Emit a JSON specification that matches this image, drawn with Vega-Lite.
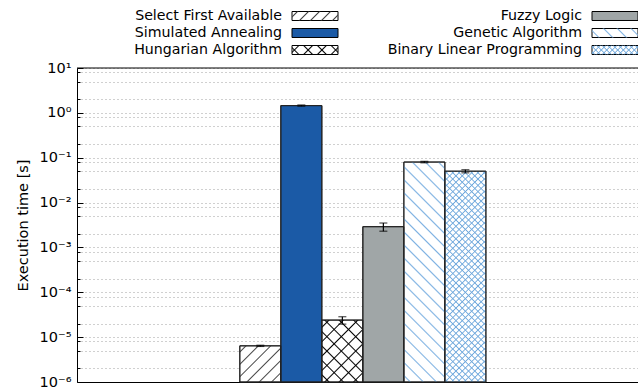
{
  "$schema": "https://vega.github.io/schema/vega-lite/v6.json",
  "width": 561,
  "height": 314,
  "autosize": {"type": "none"},
  "padding": {"left": 77, "top": 68, "right": 0, "bottom": 9},
  "background": "#ffffff",
  "config": {"font": "DejaVu Sans", "view": {"stroke": null}},
  "data": {"values": [
    {"algo": "Select First Available", "time": 6.4e-6, "lo": 6.2e-6, "hi": 6.6e-6},
    {"algo": "Simulated Annealing", "time": 1.45, "lo": 1.41, "hi": 1.5},
    {"algo": "Hungarian Algorithm", "time": 2.4e-5, "lo": 1.95e-5, "hi": 2.85e-5},
    {"algo": "Fuzzy Logic", "time": 0.0029, "lo": 0.0023, "hi": 0.0035},
    {"algo": "Genetic Algorithm", "time": 0.08, "lo": 0.077, "hi": 0.083},
    {"algo": "Binary Linear Programming", "time": 0.05, "lo": 0.046, "hi": 0.054}
  ]},
  "resolve": {"scale": {"x": "independent", "y": "independent"}},
  "layer": [
    {
      "layer": [
        {
          "encoding": {
            "x": {"datum": "group", "type": "nominal",
              "scale": {"domain": ["group"], "paddingInner": 0, "paddingOuter": 0.64, "align": 0.517},
              "axis": {"labels": false, "ticks": false, "title": null, "domainColor": "#000000", "domainWidth": 1, "grid": false}},
            "xOffset": {"field": "algo", "type": "nominal", "sort": null,
              "scale": {"domain": ["Select First Available", "Simulated Annealing", "Hungarian Algorithm", "Fuzzy Logic", "Genetic Algorithm", "Binary Linear Programming"], "paddingInner": 0, "paddingOuter": 0}},
            "y": {"field": "time", "type": "quantitative", "title": "Execution time [s]",
              "scale": {"type": "log", "domain": [1e-6, 10], "nice": false},
              "axis": {
                "values": [1e-6,2e-6,5e-6,8e-6,1e-5,2e-5,5e-5,8e-5,1e-4,2e-4,5e-4,8e-4,0.001,0.002,0.005,0.008,0.01,0.02,0.05,0.08,0.1,0.2,0.5,0.8,1,2,5,8,10],
                "labelExpr": "abs(log(datum.value)/LN10 - round(log(datum.value)/LN10)) > 0.01 ? '' : ['10⁻⁶','10⁻⁵','10⁻⁴','10⁻³','10⁻²','10⁻¹','10⁰','10¹'][round(log(datum.value)/LN10) + 6]",
                "labelOverlap": false,
                "labelFontSize": 14.5, "labelColor": "#000000", "labelPadding": 12,
                "grid": true, "gridColor": "#a0a0a0", "gridDash": [1, 3], "gridWidth": 1,
                "domain": true, "domainColor": "#000000", "domainWidth": 1,
                "ticks": true, "tickColor": "#000000", "tickWidth": 1,
                "tickSize": {"condition": {"test": "abs(log(datum.value)/LN10 - round(log(datum.value)/LN10)) < 0.01", "value": -6}, "value": -3},
                "titleFontSize": 14.5, "titleFontWeight": "normal", "titleColor": "#000000", "titlePadding": 9
              }},
            "y2": {"datum": 1e-6}
          },
          "layer": [
            {"mark": {"type": "bar", "stroke": "#222222", "strokeWidth": 1},
             "encoding": {"fill": {"field": "algo", "type": "nominal", "legend": null,
               "scale": {"domain": ["Select First Available", "Simulated Annealing", "Hungarian Algorithm", "Fuzzy Logic", "Genetic Algorithm", "Binary Linear Programming"], "range": ["#ffffff", "#1b5aa6", "#ffffff", "#a0a6a7", "#ffffff", "#ffffff"]}}}},
            {"transform": [{"filter": "datum.algo === 'Select First Available'"}],
             "mark": {"type": "bar", "fill": {"gradient": "linear", "x1": 0, "y1": 0, "x2": 1.058, "y2": 0.934, "stops": [
               {"offset":0.062,"color":"#44444400"},{"offset":0.08,"color":"#444444"},{"offset":0.098,"color":"#44444400"},
               {"offset":0.222,"color":"#44444400"},{"offset":0.24,"color":"#444444"},{"offset":0.258,"color":"#44444400"},
               {"offset":0.382,"color":"#44444400"},{"offset":0.4,"color":"#444444"},{"offset":0.418,"color":"#44444400"},
               {"offset":0.542,"color":"#44444400"},{"offset":0.56,"color":"#444444"},{"offset":0.578,"color":"#44444400"},
               {"offset":0.702,"color":"#44444400"},{"offset":0.72,"color":"#444444"},{"offset":0.738,"color":"#44444400"},
               {"offset":0.862,"color":"#44444400"},{"offset":0.88,"color":"#444444"},{"offset":0.898,"color":"#44444400"}]}}},
            {"transform": [{"filter": "datum.algo === 'Hungarian Algorithm'"}],
             "mark": {"type": "bar", "fill": {"gradient": "linear", "x1": 0, "y1": 0, "x2": 0.765, "y2": 1.155, "stops": [
               {"offset":0.056,"color":"#00000000"},{"offset":0.07,"color":"#000000"},{"offset":0.084,"color":"#00000000"},
               {"offset":0.196,"color":"#00000000"},{"offset":0.21,"color":"#000000"},{"offset":0.224,"color":"#00000000"},
               {"offset":0.336,"color":"#00000000"},{"offset":0.35,"color":"#000000"},{"offset":0.364,"color":"#00000000"},
               {"offset":0.476,"color":"#00000000"},{"offset":0.49,"color":"#000000"},{"offset":0.504,"color":"#00000000"},
               {"offset":0.616,"color":"#00000000"},{"offset":0.63,"color":"#000000"},{"offset":0.644,"color":"#00000000"},
               {"offset":0.756,"color":"#00000000"},{"offset":0.77,"color":"#000000"},{"offset":0.784,"color":"#00000000"},
               {"offset":0.896,"color":"#00000000"},{"offset":0.91,"color":"#000000"},{"offset":0.924,"color":"#00000000"}]}}},
            {"transform": [{"filter": "datum.algo === 'Hungarian Algorithm'"}],
             "mark": {"type": "bar", "fill": {"gradient": "linear", "x1": 0, "y1": 1, "x2": 0.765, "y2": -0.155, "stops": [
               {"offset":0.056,"color":"#00000000"},{"offset":0.07,"color":"#000000"},{"offset":0.084,"color":"#00000000"},
               {"offset":0.196,"color":"#00000000"},{"offset":0.21,"color":"#000000"},{"offset":0.224,"color":"#00000000"},
               {"offset":0.336,"color":"#00000000"},{"offset":0.35,"color":"#000000"},{"offset":0.364,"color":"#00000000"},
               {"offset":0.476,"color":"#00000000"},{"offset":0.49,"color":"#000000"},{"offset":0.504,"color":"#00000000"},
               {"offset":0.616,"color":"#00000000"},{"offset":0.63,"color":"#000000"},{"offset":0.644,"color":"#00000000"},
               {"offset":0.756,"color":"#00000000"},{"offset":0.77,"color":"#000000"},{"offset":0.784,"color":"#00000000"},
               {"offset":0.896,"color":"#00000000"},{"offset":0.91,"color":"#000000"},{"offset":0.924,"color":"#00000000"}]}}},
            {"transform": [{"filter": "datum.algo === 'Genetic Algorithm'"}],
             "mark": {"type": "bar", "fill": {"gradient": "linear", "x1": 0, "y1": 1, "x2": 0.214, "y2": -0.147, "stops": [
               {"offset":0.019,"color":"#7fb2e200"},{"offset":0.025,"color":"#7fb2e2"},{"offset":0.031,"color":"#7fb2e200"},{"offset":0.069,"color":"#7fb2e200"},{"offset":0.075,"color":"#7fb2e2"},{"offset":0.081,"color":"#7fb2e200"},
               {"offset":0.119,"color":"#7fb2e200"},{"offset":0.125,"color":"#7fb2e2"},{"offset":0.131,"color":"#7fb2e200"},{"offset":0.169,"color":"#7fb2e200"},{"offset":0.175,"color":"#7fb2e2"},{"offset":0.181,"color":"#7fb2e200"},
               {"offset":0.219,"color":"#7fb2e200"},{"offset":0.225,"color":"#7fb2e2"},{"offset":0.231,"color":"#7fb2e200"},{"offset":0.269,"color":"#7fb2e200"},{"offset":0.275,"color":"#7fb2e2"},{"offset":0.281,"color":"#7fb2e200"},
               {"offset":0.319,"color":"#7fb2e200"},{"offset":0.325,"color":"#7fb2e2"},{"offset":0.331,"color":"#7fb2e200"},{"offset":0.369,"color":"#7fb2e200"},{"offset":0.375,"color":"#7fb2e2"},{"offset":0.381,"color":"#7fb2e200"},
               {"offset":0.419,"color":"#7fb2e200"},{"offset":0.425,"color":"#7fb2e2"},{"offset":0.431,"color":"#7fb2e200"},{"offset":0.469,"color":"#7fb2e200"},{"offset":0.475,"color":"#7fb2e2"},{"offset":0.481,"color":"#7fb2e200"},
               {"offset":0.519,"color":"#7fb2e200"},{"offset":0.525,"color":"#7fb2e2"},{"offset":0.531,"color":"#7fb2e200"},{"offset":0.569,"color":"#7fb2e200"},{"offset":0.575,"color":"#7fb2e2"},{"offset":0.581,"color":"#7fb2e200"},
               {"offset":0.619,"color":"#7fb2e200"},{"offset":0.625,"color":"#7fb2e2"},{"offset":0.631,"color":"#7fb2e200"},{"offset":0.669,"color":"#7fb2e200"},{"offset":0.675,"color":"#7fb2e2"},{"offset":0.681,"color":"#7fb2e200"},
               {"offset":0.719,"color":"#7fb2e200"},{"offset":0.725,"color":"#7fb2e2"},{"offset":0.731,"color":"#7fb2e200"},{"offset":0.769,"color":"#7fb2e200"},{"offset":0.775,"color":"#7fb2e2"},{"offset":0.781,"color":"#7fb2e200"},
               {"offset":0.819,"color":"#7fb2e200"},{"offset":0.825,"color":"#7fb2e2"},{"offset":0.831,"color":"#7fb2e200"},{"offset":0.869,"color":"#7fb2e200"},{"offset":0.875,"color":"#7fb2e2"},{"offset":0.881,"color":"#7fb2e200"},
               {"offset":0.919,"color":"#7fb2e200"},{"offset":0.925,"color":"#7fb2e2"},{"offset":0.931,"color":"#7fb2e200"},{"offset":0.969,"color":"#7fb2e200"},{"offset":0.975,"color":"#7fb2e2"},{"offset":0.981,"color":"#7fb2e200"}]}}},
            {"transform": [{"filter": "datum.algo === 'Binary Linear Programming'"}],
             "mark": {"type": "bar", "fill": {"gradient": "linear", "x1": 0, "y1": 0, "x2": 0.224, "y2": 1.151, "stops": [
               {"offset":0.0075,"color":"#6fa8dc00"},{"offset":0.0125,"color":"#6fa8dc"},{"offset":0.0175,"color":"#6fa8dc00"},{"offset":0.0325,"color":"#6fa8dc00"},{"offset":0.0375,"color":"#6fa8dc"},{"offset":0.0425,"color":"#6fa8dc00"},{"offset":0.0575,"color":"#6fa8dc00"},{"offset":0.0625,"color":"#6fa8dc"},{"offset":0.0675,"color":"#6fa8dc00"},{"offset":0.0825,"color":"#6fa8dc00"},{"offset":0.0875,"color":"#6fa8dc"},{"offset":0.0925,"color":"#6fa8dc00"},
               {"offset":0.1075,"color":"#6fa8dc00"},{"offset":0.1125,"color":"#6fa8dc"},{"offset":0.1175,"color":"#6fa8dc00"},{"offset":0.1325,"color":"#6fa8dc00"},{"offset":0.1375,"color":"#6fa8dc"},{"offset":0.1425,"color":"#6fa8dc00"},{"offset":0.1575,"color":"#6fa8dc00"},{"offset":0.1625,"color":"#6fa8dc"},{"offset":0.1675,"color":"#6fa8dc00"},{"offset":0.1825,"color":"#6fa8dc00"},{"offset":0.1875,"color":"#6fa8dc"},{"offset":0.1925,"color":"#6fa8dc00"},
               {"offset":0.2075,"color":"#6fa8dc00"},{"offset":0.2125,"color":"#6fa8dc"},{"offset":0.2175,"color":"#6fa8dc00"},{"offset":0.2325,"color":"#6fa8dc00"},{"offset":0.2375,"color":"#6fa8dc"},{"offset":0.2425,"color":"#6fa8dc00"},{"offset":0.2575,"color":"#6fa8dc00"},{"offset":0.2625,"color":"#6fa8dc"},{"offset":0.2675,"color":"#6fa8dc00"},{"offset":0.2825,"color":"#6fa8dc00"},{"offset":0.2875,"color":"#6fa8dc"},{"offset":0.2925,"color":"#6fa8dc00"},
               {"offset":0.3075,"color":"#6fa8dc00"},{"offset":0.3125,"color":"#6fa8dc"},{"offset":0.3175,"color":"#6fa8dc00"},{"offset":0.3325,"color":"#6fa8dc00"},{"offset":0.3375,"color":"#6fa8dc"},{"offset":0.3425,"color":"#6fa8dc00"},{"offset":0.3575,"color":"#6fa8dc00"},{"offset":0.3625,"color":"#6fa8dc"},{"offset":0.3675,"color":"#6fa8dc00"},{"offset":0.3825,"color":"#6fa8dc00"},{"offset":0.3875,"color":"#6fa8dc"},{"offset":0.3925,"color":"#6fa8dc00"},
               {"offset":0.4075,"color":"#6fa8dc00"},{"offset":0.4125,"color":"#6fa8dc"},{"offset":0.4175,"color":"#6fa8dc00"},{"offset":0.4325,"color":"#6fa8dc00"},{"offset":0.4375,"color":"#6fa8dc"},{"offset":0.4425,"color":"#6fa8dc00"},{"offset":0.4575,"color":"#6fa8dc00"},{"offset":0.4625,"color":"#6fa8dc"},{"offset":0.4675,"color":"#6fa8dc00"},{"offset":0.4825,"color":"#6fa8dc00"},{"offset":0.4875,"color":"#6fa8dc"},{"offset":0.4925,"color":"#6fa8dc00"},
               {"offset":0.5075,"color":"#6fa8dc00"},{"offset":0.5125,"color":"#6fa8dc"},{"offset":0.5175,"color":"#6fa8dc00"},{"offset":0.5325,"color":"#6fa8dc00"},{"offset":0.5375,"color":"#6fa8dc"},{"offset":0.5425,"color":"#6fa8dc00"},{"offset":0.5575,"color":"#6fa8dc00"},{"offset":0.5625,"color":"#6fa8dc"},{"offset":0.5675,"color":"#6fa8dc00"},{"offset":0.5825,"color":"#6fa8dc00"},{"offset":0.5875,"color":"#6fa8dc"},{"offset":0.5925,"color":"#6fa8dc00"},
               {"offset":0.6075,"color":"#6fa8dc00"},{"offset":0.6125,"color":"#6fa8dc"},{"offset":0.6175,"color":"#6fa8dc00"},{"offset":0.6325,"color":"#6fa8dc00"},{"offset":0.6375,"color":"#6fa8dc"},{"offset":0.6425,"color":"#6fa8dc00"},{"offset":0.6575,"color":"#6fa8dc00"},{"offset":0.6625,"color":"#6fa8dc"},{"offset":0.6675,"color":"#6fa8dc00"},{"offset":0.6825,"color":"#6fa8dc00"},{"offset":0.6875,"color":"#6fa8dc"},{"offset":0.6925,"color":"#6fa8dc00"},
               {"offset":0.7075,"color":"#6fa8dc00"},{"offset":0.7125,"color":"#6fa8dc"},{"offset":0.7175,"color":"#6fa8dc00"},{"offset":0.7325,"color":"#6fa8dc00"},{"offset":0.7375,"color":"#6fa8dc"},{"offset":0.7425,"color":"#6fa8dc00"},{"offset":0.7575,"color":"#6fa8dc00"},{"offset":0.7625,"color":"#6fa8dc"},{"offset":0.7675,"color":"#6fa8dc00"},{"offset":0.7825,"color":"#6fa8dc00"},{"offset":0.7875,"color":"#6fa8dc"},{"offset":0.7925,"color":"#6fa8dc00"},
               {"offset":0.8075,"color":"#6fa8dc00"},{"offset":0.8125,"color":"#6fa8dc"},{"offset":0.8175,"color":"#6fa8dc00"},{"offset":0.8325,"color":"#6fa8dc00"},{"offset":0.8375,"color":"#6fa8dc"},{"offset":0.8425,"color":"#6fa8dc00"},{"offset":0.8575,"color":"#6fa8dc00"},{"offset":0.8625,"color":"#6fa8dc"},{"offset":0.8675,"color":"#6fa8dc00"},{"offset":0.8825,"color":"#6fa8dc00"},{"offset":0.8875,"color":"#6fa8dc"},{"offset":0.8925,"color":"#6fa8dc00"},
               {"offset":0.9075,"color":"#6fa8dc00"},{"offset":0.9125,"color":"#6fa8dc"},{"offset":0.9175,"color":"#6fa8dc00"},{"offset":0.9325,"color":"#6fa8dc00"},{"offset":0.9375,"color":"#6fa8dc"},{"offset":0.9425,"color":"#6fa8dc00"},{"offset":0.9575,"color":"#6fa8dc00"},{"offset":0.9625,"color":"#6fa8dc"},{"offset":0.9675,"color":"#6fa8dc00"},{"offset":0.9825,"color":"#6fa8dc00"},{"offset":0.9875,"color":"#6fa8dc"},{"offset":0.9925,"color":"#6fa8dc00"}]}}},
            {"transform": [{"filter": "datum.algo === 'Binary Linear Programming'"}],
             "mark": {"type": "bar", "fill": {"gradient": "linear", "x1": 0, "y1": 1, "x2": 0.224, "y2": -0.151, "stops": [
               {"offset":0.0075,"color":"#6fa8dc00"},{"offset":0.0125,"color":"#6fa8dc"},{"offset":0.0175,"color":"#6fa8dc00"},{"offset":0.0325,"color":"#6fa8dc00"},{"offset":0.0375,"color":"#6fa8dc"},{"offset":0.0425,"color":"#6fa8dc00"},{"offset":0.0575,"color":"#6fa8dc00"},{"offset":0.0625,"color":"#6fa8dc"},{"offset":0.0675,"color":"#6fa8dc00"},{"offset":0.0825,"color":"#6fa8dc00"},{"offset":0.0875,"color":"#6fa8dc"},{"offset":0.0925,"color":"#6fa8dc00"},
               {"offset":0.1075,"color":"#6fa8dc00"},{"offset":0.1125,"color":"#6fa8dc"},{"offset":0.1175,"color":"#6fa8dc00"},{"offset":0.1325,"color":"#6fa8dc00"},{"offset":0.1375,"color":"#6fa8dc"},{"offset":0.1425,"color":"#6fa8dc00"},{"offset":0.1575,"color":"#6fa8dc00"},{"offset":0.1625,"color":"#6fa8dc"},{"offset":0.1675,"color":"#6fa8dc00"},{"offset":0.1825,"color":"#6fa8dc00"},{"offset":0.1875,"color":"#6fa8dc"},{"offset":0.1925,"color":"#6fa8dc00"},
               {"offset":0.2075,"color":"#6fa8dc00"},{"offset":0.2125,"color":"#6fa8dc"},{"offset":0.2175,"color":"#6fa8dc00"},{"offset":0.2325,"color":"#6fa8dc00"},{"offset":0.2375,"color":"#6fa8dc"},{"offset":0.2425,"color":"#6fa8dc00"},{"offset":0.2575,"color":"#6fa8dc00"},{"offset":0.2625,"color":"#6fa8dc"},{"offset":0.2675,"color":"#6fa8dc00"},{"offset":0.2825,"color":"#6fa8dc00"},{"offset":0.2875,"color":"#6fa8dc"},{"offset":0.2925,"color":"#6fa8dc00"},
               {"offset":0.3075,"color":"#6fa8dc00"},{"offset":0.3125,"color":"#6fa8dc"},{"offset":0.3175,"color":"#6fa8dc00"},{"offset":0.3325,"color":"#6fa8dc00"},{"offset":0.3375,"color":"#6fa8dc"},{"offset":0.3425,"color":"#6fa8dc00"},{"offset":0.3575,"color":"#6fa8dc00"},{"offset":0.3625,"color":"#6fa8dc"},{"offset":0.3675,"color":"#6fa8dc00"},{"offset":0.3825,"color":"#6fa8dc00"},{"offset":0.3875,"color":"#6fa8dc"},{"offset":0.3925,"color":"#6fa8dc00"},
               {"offset":0.4075,"color":"#6fa8dc00"},{"offset":0.4125,"color":"#6fa8dc"},{"offset":0.4175,"color":"#6fa8dc00"},{"offset":0.4325,"color":"#6fa8dc00"},{"offset":0.4375,"color":"#6fa8dc"},{"offset":0.4425,"color":"#6fa8dc00"},{"offset":0.4575,"color":"#6fa8dc00"},{"offset":0.4625,"color":"#6fa8dc"},{"offset":0.4675,"color":"#6fa8dc00"},{"offset":0.4825,"color":"#6fa8dc00"},{"offset":0.4875,"color":"#6fa8dc"},{"offset":0.4925,"color":"#6fa8dc00"},
               {"offset":0.5075,"color":"#6fa8dc00"},{"offset":0.5125,"color":"#6fa8dc"},{"offset":0.5175,"color":"#6fa8dc00"},{"offset":0.5325,"color":"#6fa8dc00"},{"offset":0.5375,"color":"#6fa8dc"},{"offset":0.5425,"color":"#6fa8dc00"},{"offset":0.5575,"color":"#6fa8dc00"},{"offset":0.5625,"color":"#6fa8dc"},{"offset":0.5675,"color":"#6fa8dc00"},{"offset":0.5825,"color":"#6fa8dc00"},{"offset":0.5875,"color":"#6fa8dc"},{"offset":0.5925,"color":"#6fa8dc00"},
               {"offset":0.6075,"color":"#6fa8dc00"},{"offset":0.6125,"color":"#6fa8dc"},{"offset":0.6175,"color":"#6fa8dc00"},{"offset":0.6325,"color":"#6fa8dc00"},{"offset":0.6375,"color":"#6fa8dc"},{"offset":0.6425,"color":"#6fa8dc00"},{"offset":0.6575,"color":"#6fa8dc00"},{"offset":0.6625,"color":"#6fa8dc"},{"offset":0.6675,"color":"#6fa8dc00"},{"offset":0.6825,"color":"#6fa8dc00"},{"offset":0.6875,"color":"#6fa8dc"},{"offset":0.6925,"color":"#6fa8dc00"},
               {"offset":0.7075,"color":"#6fa8dc00"},{"offset":0.7125,"color":"#6fa8dc"},{"offset":0.7175,"color":"#6fa8dc00"},{"offset":0.7325,"color":"#6fa8dc00"},{"offset":0.7375,"color":"#6fa8dc"},{"offset":0.7425,"color":"#6fa8dc00"},{"offset":0.7575,"color":"#6fa8dc00"},{"offset":0.7625,"color":"#6fa8dc"},{"offset":0.7675,"color":"#6fa8dc00"},{"offset":0.7825,"color":"#6fa8dc00"},{"offset":0.7875,"color":"#6fa8dc"},{"offset":0.7925,"color":"#6fa8dc00"},
               {"offset":0.8075,"color":"#6fa8dc00"},{"offset":0.8125,"color":"#6fa8dc"},{"offset":0.8175,"color":"#6fa8dc00"},{"offset":0.8325,"color":"#6fa8dc00"},{"offset":0.8375,"color":"#6fa8dc"},{"offset":0.8425,"color":"#6fa8dc00"},{"offset":0.8575,"color":"#6fa8dc00"},{"offset":0.8625,"color":"#6fa8dc"},{"offset":0.8675,"color":"#6fa8dc00"},{"offset":0.8825,"color":"#6fa8dc00"},{"offset":0.8875,"color":"#6fa8dc"},{"offset":0.8925,"color":"#6fa8dc00"},
               {"offset":0.9075,"color":"#6fa8dc00"},{"offset":0.9125,"color":"#6fa8dc"},{"offset":0.9175,"color":"#6fa8dc00"},{"offset":0.9325,"color":"#6fa8dc00"},{"offset":0.9375,"color":"#6fa8dc"},{"offset":0.9425,"color":"#6fa8dc00"},{"offset":0.9575,"color":"#6fa8dc00"},{"offset":0.9625,"color":"#6fa8dc"},{"offset":0.9675,"color":"#6fa8dc00"},{"offset":0.9825,"color":"#6fa8dc00"},{"offset":0.9875,"color":"#6fa8dc"},{"offset":0.9925,"color":"#6fa8dc00"}]}}},
            {"mark": {"type": "bar", "fill": null, "stroke": "#222222", "strokeWidth": 1}}
          ]
        },
        {
          "encoding": {
            "x": {"datum": "group", "type": "nominal"},
            "xOffset": {"field": "algo", "type": "nominal", "sort": null}
          },
          "layer": [
            {"mark": {"type": "rule", "color": "#000000", "strokeWidth": 1.2},
             "encoding": {"y": {"field": "lo", "type": "quantitative", "title": "Execution time [s]"}, "y2": {"field": "hi"}}},
            {"mark": {"type": "tick", "color": "#000000", "thickness": 1.2, "size": 8},
             "encoding": {"y": {"field": "lo", "type": "quantitative", "title": "Execution time [s]"}}},
            {"mark": {"type": "tick", "color": "#000000", "thickness": 1.2, "size": 8},
             "encoding": {"y": {"field": "hi", "type": "quantitative", "title": "Execution time [s]"}}}
          ]
        },
        {"data": {"values": [{}]}, "mark": {"type": "rule", "color": "#000000", "strokeWidth": 1},
         "encoding": {"y": {"datum": 10, "type": "quantitative"}}}
      ]
    },
    {
      "transform": [{"filter": {"field": "algo", "oneOf": ["Select First Available", "Simulated Annealing", "Hungarian Algorithm"]}}],
      "encoding": {
        "y": {"field": "algo", "type": "nominal", "axis": null,
          "scale": {"domain": ["Select First Available", "Simulated Annealing", "Hungarian Algorithm"], "range": [-60.5, -9.5], "paddingInner": 0.4706, "paddingOuter": 0.2353}}
      },
      "layer": [
        {"mark": {"type": "text", "align": "right", "baseline": "middle", "dx": -10, "fontSize": 14.2, "color": "#000000", "font": "DejaVu Sans"},
         "encoding": {"text": {"field": "algo"},
           "x": {"datum": "sw", "type": "nominal", "bandPosition": 0, "axis": null, "scale": {"domain": ["sw"], "range": [215, 261], "paddingInner": 0, "paddingOuter": 0}}}},
        {"mark": {"type": "rect", "stroke": "#000000", "strokeWidth": 1},
         "encoding": {"x": {"datum": "sw", "type": "nominal", "axis": null}, "fill": {"field": "algo", "type": "nominal", "legend": null}}},
        {"transform": [{"filter": "datum.algo === 'Select First Available'"}],
         "mark": {"type": "rect", "fill": {"gradient": "linear", "x1": 0, "y1": 0, "x2": 1.152, "y2": 0.225, "stops": [
           {"offset":0.074,"color":"#44444400"},{"offset":0.1,"color":"#444444"},{"offset":0.126,"color":"#44444400"},
           {"offset":0.274,"color":"#44444400"},{"offset":0.3,"color":"#444444"},{"offset":0.326,"color":"#44444400"},
           {"offset":0.474,"color":"#44444400"},{"offset":0.5,"color":"#444444"},{"offset":0.526,"color":"#44444400"},
           {"offset":0.674,"color":"#44444400"},{"offset":0.7,"color":"#444444"},{"offset":0.726,"color":"#44444400"},
           {"offset":0.874,"color":"#44444400"},{"offset":0.9,"color":"#444444"},{"offset":0.926,"color":"#44444400"}]}},
         "encoding": {"x": {"datum": "sw", "type": "nominal", "axis": null}}},
        {"transform": [{"filter": "datum.algo === 'Hungarian Algorithm'"}],
         "mark": {"type": "rect", "fill": {"gradient": "linear", "x1": 0, "y1": 0, "x2": 1.152, "y2": 0.225, "stops": [
           {"offset":0.099,"color":"#00000000"},{"offset":0.125,"color":"#000000"},{"offset":0.151,"color":"#00000000"},
           {"offset":0.349,"color":"#00000000"},{"offset":0.375,"color":"#000000"},{"offset":0.401,"color":"#00000000"},
           {"offset":0.599,"color":"#00000000"},{"offset":0.625,"color":"#000000"},{"offset":0.651,"color":"#00000000"},
           {"offset":0.849,"color":"#00000000"},{"offset":0.875,"color":"#000000"},{"offset":0.901,"color":"#00000000"}]}},
         "encoding": {"x": {"datum": "sw", "type": "nominal", "axis": null}}},
        {"transform": [{"filter": "datum.algo === 'Hungarian Algorithm'"}],
         "mark": {"type": "rect", "fill": {"gradient": "linear", "x1": 0, "y1": 1, "x2": 1.152, "y2": 0.775, "stops": [
           {"offset":0.099,"color":"#00000000"},{"offset":0.125,"color":"#000000"},{"offset":0.151,"color":"#00000000"},
           {"offset":0.349,"color":"#00000000"},{"offset":0.375,"color":"#000000"},{"offset":0.401,"color":"#00000000"},
           {"offset":0.599,"color":"#00000000"},{"offset":0.625,"color":"#000000"},{"offset":0.651,"color":"#00000000"},
           {"offset":0.849,"color":"#00000000"},{"offset":0.875,"color":"#000000"},{"offset":0.901,"color":"#00000000"}]}},
         "encoding": {"x": {"datum": "sw", "type": "nominal", "axis": null}}}
      ]
    },
    {
      "transform": [{"filter": {"field": "algo", "oneOf": ["Fuzzy Logic", "Genetic Algorithm", "Binary Linear Programming"]}}],
      "encoding": {
        "y": {"field": "algo", "type": "nominal", "axis": null,
          "scale": {"domain": ["Fuzzy Logic", "Genetic Algorithm", "Binary Linear Programming"], "range": [-60.5, -9.5], "paddingInner": 0.4706, "paddingOuter": 0.2353}}
      },
      "layer": [
        {"mark": {"type": "text", "align": "right", "baseline": "middle", "dx": -10, "fontSize": 14.2, "color": "#000000", "font": "DejaVu Sans"},
         "encoding": {"text": {"field": "algo"},
           "x": {"datum": "sw", "type": "nominal", "bandPosition": 0, "axis": null, "scale": {"domain": ["sw"], "range": [515, 561], "paddingInner": 0, "paddingOuter": 0}}}},
        {"mark": {"type": "rect", "stroke": "#000000", "strokeWidth": 1},
         "encoding": {"x": {"datum": "sw", "type": "nominal", "axis": null}, "fill": {"field": "algo", "type": "nominal", "legend": null}}},
        {"transform": [{"filter": "datum.algo === 'Genetic Algorithm'"}],
         "mark": {"type": "rect", "fill": {"gradient": "linear", "x1": 0, "y1": 1, "x2": 1.152, "y2": 0.775, "stops": [
           {"offset":0.099,"color":"#7fb2e200"},{"offset":0.125,"color":"#7fb2e2"},{"offset":0.151,"color":"#7fb2e200"},
           {"offset":0.349,"color":"#7fb2e200"},{"offset":0.375,"color":"#7fb2e2"},{"offset":0.401,"color":"#7fb2e200"},
           {"offset":0.599,"color":"#7fb2e200"},{"offset":0.625,"color":"#7fb2e2"},{"offset":0.651,"color":"#7fb2e200"},
           {"offset":0.849,"color":"#7fb2e200"},{"offset":0.875,"color":"#7fb2e2"},{"offset":0.901,"color":"#7fb2e200"}]}},
         "encoding": {"x": {"datum": "sw", "type": "nominal", "axis": null}}},
        {"transform": [{"filter": "datum.algo === 'Binary Linear Programming'"}],
         "mark": {"type": "rect", "fill": {"gradient": "linear", "x1": 0, "y1": 0, "x2": 1.152, "y2": 0.225, "stops": [
           {"offset":0.028,"color":"#6fa8dc00"},{"offset":0.05,"color":"#6fa8dc"},{"offset":0.072,"color":"#6fa8dc00"},
           {"offset":0.128,"color":"#6fa8dc00"},{"offset":0.15,"color":"#6fa8dc"},{"offset":0.172,"color":"#6fa8dc00"},
           {"offset":0.228,"color":"#6fa8dc00"},{"offset":0.25,"color":"#6fa8dc"},{"offset":0.272,"color":"#6fa8dc00"},
           {"offset":0.328,"color":"#6fa8dc00"},{"offset":0.35,"color":"#6fa8dc"},{"offset":0.372,"color":"#6fa8dc00"},
           {"offset":0.428,"color":"#6fa8dc00"},{"offset":0.45,"color":"#6fa8dc"},{"offset":0.472,"color":"#6fa8dc00"},
           {"offset":0.528,"color":"#6fa8dc00"},{"offset":0.55,"color":"#6fa8dc"},{"offset":0.572,"color":"#6fa8dc00"},
           {"offset":0.628,"color":"#6fa8dc00"},{"offset":0.65,"color":"#6fa8dc"},{"offset":0.672,"color":"#6fa8dc00"},
           {"offset":0.728,"color":"#6fa8dc00"},{"offset":0.75,"color":"#6fa8dc"},{"offset":0.772,"color":"#6fa8dc00"},
           {"offset":0.828,"color":"#6fa8dc00"},{"offset":0.85,"color":"#6fa8dc"},{"offset":0.872,"color":"#6fa8dc00"},
           {"offset":0.928,"color":"#6fa8dc00"},{"offset":0.95,"color":"#6fa8dc"},{"offset":0.972,"color":"#6fa8dc00"}]}},
         "encoding": {"x": {"datum": "sw", "type": "nominal", "axis": null}}},
        {"transform": [{"filter": "datum.algo === 'Binary Linear Programming'"}],
         "mark": {"type": "rect", "fill": {"gradient": "linear", "x1": 0, "y1": 1, "x2": 1.152, "y2": 0.775, "stops": [
           {"offset":0.028,"color":"#6fa8dc00"},{"offset":0.05,"color":"#6fa8dc"},{"offset":0.072,"color":"#6fa8dc00"},
           {"offset":0.128,"color":"#6fa8dc00"},{"offset":0.15,"color":"#6fa8dc"},{"offset":0.172,"color":"#6fa8dc00"},
           {"offset":0.228,"color":"#6fa8dc00"},{"offset":0.25,"color":"#6fa8dc"},{"offset":0.272,"color":"#6fa8dc00"},
           {"offset":0.328,"color":"#6fa8dc00"},{"offset":0.35,"color":"#6fa8dc"},{"offset":0.372,"color":"#6fa8dc00"},
           {"offset":0.428,"color":"#6fa8dc00"},{"offset":0.45,"color":"#6fa8dc"},{"offset":0.472,"color":"#6fa8dc00"},
           {"offset":0.528,"color":"#6fa8dc00"},{"offset":0.55,"color":"#6fa8dc"},{"offset":0.572,"color":"#6fa8dc00"},
           {"offset":0.628,"color":"#6fa8dc00"},{"offset":0.65,"color":"#6fa8dc"},{"offset":0.672,"color":"#6fa8dc00"},
           {"offset":0.728,"color":"#6fa8dc00"},{"offset":0.75,"color":"#6fa8dc"},{"offset":0.772,"color":"#6fa8dc00"},
           {"offset":0.828,"color":"#6fa8dc00"},{"offset":0.85,"color":"#6fa8dc"},{"offset":0.872,"color":"#6fa8dc00"},
           {"offset":0.928,"color":"#6fa8dc00"},{"offset":0.95,"color":"#6fa8dc"},{"offset":0.972,"color":"#6fa8dc00"}]}},
         "encoding": {"x": {"datum": "sw", "type": "nominal", "axis": null}}}
      ]
    }
  ]
}
